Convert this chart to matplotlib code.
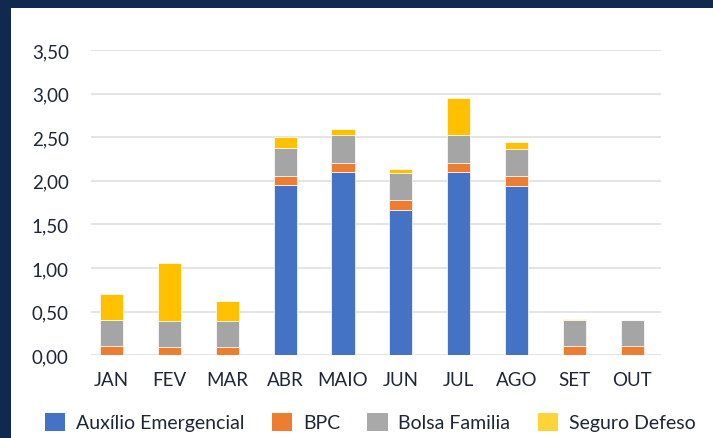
import numpy as np
import matplotlib.pyplot as plt
from matplotlib.patches import Rectangle, Patch

months = ['JAN', 'FEV', 'MAR', 'ABR', 'MAIO', 'JUN', 'JUL', 'AGO', 'SET', 'OUT']
auxilio = [0, 0, 0, 1.95, 2.10, 1.67, 2.10, 1.94, 0, 0]
bpc = [0.11, 0.10, 0.10, 0.11, 0.11, 0.11, 0.10, 0.11, 0.11, 0.11]
bolsa = [0.29, 0.29, 0.29, 0.32, 0.32, 0.31, 0.32, 0.31, 0.30, 0.30]
seguro = [0.30, 0.67, 0.23, 0.12, 0.06, 0.05, 0.43, 0.09, 0.01, 0.0]
yticks = [0, 0.5, 1.0, 1.5, 2.0, 2.5, 3.0, 3.5]

series = [('Auxílio Emergencial', auxilio, '#4472C4'),
          ('BPC', bpc, '#ED7D31'),
          ('Bolsa Familia', bolsa, '#A5A5A5'),
          ('Seguro Defeso', seguro, '#FFC000')]
legend_colors = ['#4472C4', '#ED7D31', '#A9A9A9', '#FFD43B']

plt.rcParams['font.family'] = ['Lato', 'DejaVu Sans']
text_color = '#1f2638'

fig = plt.figure(figsize=(7.13, 4.39), dpi=100)
fig.patch.set_facecolor('#10294e')
fig.patches.append(Rectangle((11 / 713, 0), 1, 1 - 9 / 439, transform=fig.transFigure,
                             facecolor='white', edgecolor='none', zorder=-10))

ax = fig.add_axes([91 / 713, 1 - 356.3 / 439, 570 / 713, (356.3 - 51) / 439])
ax.set_facecolor('none')

x = np.arange(len(months))
bottom = np.zeros(len(months))
for name, vals, col in series:
    vals = np.array(vals)
    ax.bar(x, vals, width=0.4, bottom=bottom, color=col, edgecolor='white',
           linewidth=0.5, zorder=3)
    bottom += vals

ax.set_ylim(0, 3.5)
ax.set_xlim(-0.36, 9.5)
ax.set_yticks(yticks)
ax.set_yticklabels([f'{v:.2f}'.replace('.', ',') for v in yticks])
ax.set_xticks(x)
ax.set_xticklabels(months)
ax.grid(axis='y', color='#dfdfdf', linewidth=1.2, zorder=0)
for s in ax.spines.values():
    s.set_visible(False)
ax.tick_params(axis='y', length=0, pad=16, labelsize=13.5, labelcolor=text_color)
ax.tick_params(axis='x', length=0, pad=11, labelsize=13.5, labelcolor=text_color)

handles = [Patch(facecolor=c, edgecolor='none') for c in legend_colors]
labels = [s[0] for s in series]
fig.legend(handles, labels, loc='center left', bbox_to_anchor=(45 / 713, 1 - 423 / 439),
           ncol=4, frameon=False, fontsize=14, labelcolor=text_color,
           borderpad=0, borderaxespad=0,
           handlelength=1.05, handleheight=1.05, handletextpad=0.55, columnspacing=1.4)

fig.savefig('out.png', dpi=100, facecolor=fig.get_facecolor())
